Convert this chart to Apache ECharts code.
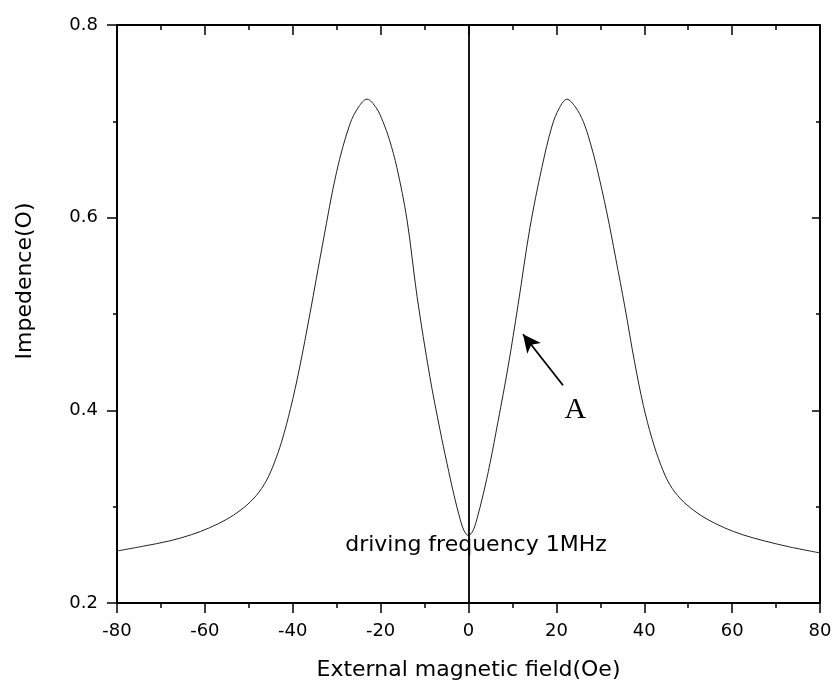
<!DOCTYPE html>
<html>
<head>
<meta charset="utf-8">
<script src="https://cdn.jsdelivr.net/npm/echarts@6/dist/echarts.min.js"></script>
<style>html,body{margin:0;padding:0;background:#fff}#c{width:836px;height:688px}</style>
</head>
<body>
<div id="c"></div>
<script>
// Field values (Oe)
const fieldOe = [-80, -74, -68, -63, -59, -55, -52, -49, -46.5, -44.5, -42.5, -40.5, -38.5, -36.1, -33.1, -30, -27, -25, -23.1, -21, -19.5, -18, -16.3, -14, -11.7, -8.8, -6.5, -4.9, -3.3, -1.9, -1, 0,
  1, 1.9, 3.3, 4.9, 6.7, 9.0, 11.3, 14.0, 16.7, 19.0, 20.7, 22.4, 24.3, 26.1, 27.7, 29.2, 31.5, 33.5, 35.6, 37.8, 39.8, 41.8, 43.8, 45.8, 48.3, 51.3, 54.3, 58.3, 62.3, 67.3, 73.3, 80];
// Impedance values
const impedance = [0.254, 0.259, 0.2645, 0.271, 0.278, 0.287, 0.296, 0.308, 0.323, 0.342, 0.368, 0.402, 0.443, 0.500, 0.575, 0.648, 0.697, 0.715, 0.723, 0.714, 0.700, 0.681, 0.652, 0.598, 0.518, 0.435, 0.380, 0.345, 0.312, 0.287, 0.275, 0.270,
  0.275, 0.287, 0.312, 0.345, 0.388, 0.445, 0.510, 0.590, 0.652, 0.695, 0.714, 0.723, 0.715, 0.700, 0.678, 0.652, 0.605, 0.558, 0.507, 0.450, 0.405, 0.370, 0.343, 0.323, 0.308, 0.296, 0.287, 0.278, 0.271, 0.2645, 0.258, 0.252];
const xTicks = [-80, -60, -40, -20, 0, 20, 40, 60, 80];
const yTicks = [0.2, 0.4, 0.6, 0.8];
// Annotations
const arrowFrom = [21.5, 0.426];
const arrowTo = [12.4, 0.479];
const labelA = [24.3, 0.400];
const noteText = 'driving frequency 1MHz';
const notePos = [1.7, 0.260];

const font = 'DejaVu Sans';
const chart = echarts.init(document.getElementById('c'), null, {renderer: 'canvas'});
const axLine = {onZero: false, lineStyle: {color: '#000', width: 2}};
const baseX = {type: 'value', min: -80, max: 80, interval: 20, splitLine: {show: false}};
const baseY = {type: 'value', min: 0.2, max: 0.8, interval: 0.2, splitLine: {show: false}};
chart.setOption({
  animation: false,
  backgroundColor: '#fff',
  grid: {left: 117, right: 16, top: 25, bottom: 85},
  xAxis: [
    Object.assign({}, baseX, {
      position: 'bottom',
      axisLine: axLine,
      axisTick: {inside: false, length: 10, lineStyle: {color: '#000', width: 1.5}},
      minorTick: {show: true, splitNumber: 2, length: 5, lineStyle: {color: '#000', width: 1.5}},
      axisLabel: {margin: 19, fontFamily: font, fontSize: 18, color: '#000',
        formatter: v => xTicks.includes(v) ? String(v) : ''},
      name: 'External magnetic field(Oe)', nameLocation: 'middle', nameGap: 56,
      nameTextStyle: {fontFamily: font, fontSize: 22, color: '#000'}
    }),
    Object.assign({}, baseX, {
      position: 'top',
      axisLine: axLine,
      axisTick: {inside: true, length: 10, lineStyle: {color: '#000', width: 1.5}},
      minorTick: {show: true, splitNumber: 2, length: 5, lineStyle: {color: '#000', width: 1.5}},
      axisLabel: {show: false}
    })
  ],
  yAxis: [
    Object.assign({}, baseY, {
      position: 'left',
      axisLine: axLine,
      axisTick: {inside: false, length: 10, lineStyle: {color: '#000', width: 1.5}},
      minorTick: {show: true, splitNumber: 2, length: 4, lineStyle: {color: '#000', width: 1.5}},
      axisLabel: {margin: 19, fontFamily: font, fontSize: 18, color: '#000',
        formatter: v => { const t = yTicks.find(k => Math.abs(k - v) < 1e-9); return t !== undefined ? t.toFixed(1) : ''; }}
    }),
    Object.assign({}, baseY, {
      position: 'right',
      axisLine: axLine,
      axisTick: {inside: true, length: 8, lineStyle: {color: '#000', width: 1.5}},
      minorTick: {show: true, splitNumber: 2, length: 4, lineStyle: {color: '#000', width: 1.5}},
      axisLabel: {show: false}
    })
  ],
  graphic: [{
    type: 'text', x: 25, y: 281, rotation: Math.PI / 2,
    style: {text: 'Impedence(O)', font: '22px "DejaVu Sans"', fill: '#000', align: 'center', verticalAlign: 'middle'}
  }],
  series: [{
    type: 'line',
    xAxisIndex: 0, yAxisIndex: 0,
    data: fieldOe.map((x, i) => [x, impedance[i]]),
    showSymbol: false,
    smooth: 0.35,
    lineStyle: {color: '#222', width: 1},
    markLine: {
      silent: true,
      animation: false,
      data: [
        [{xAxis: 0, yAxis: 0.2, symbol: 'none'}, {xAxis: 0, yAxis: 0.8, symbol: 'none'}],
        [{coord: arrowFrom, symbol: 'none'}, {coord: arrowTo, symbol: 'arrow', symbolSize: [13, 18]}]
      ],
      lineStyle: {color: '#000', width: 1.8, type: 'solid'},
      label: {show: false}
    },
    markPoint: {
      silent: true,
      symbol: 'circle', symbolSize: 0,
      data: [
        {coord: labelA, label: {show: true, formatter: 'A', fontFamily: 'Liberation Serif', fontSize: 30, color: '#000', position: 'inside'}},
        {coord: notePos, label: {show: true, formatter: noteText, fontFamily: font, fontSize: 22, color: '#000', position: 'inside'}}
      ]
    }
  }]
});
</script>
</body>
</html>
